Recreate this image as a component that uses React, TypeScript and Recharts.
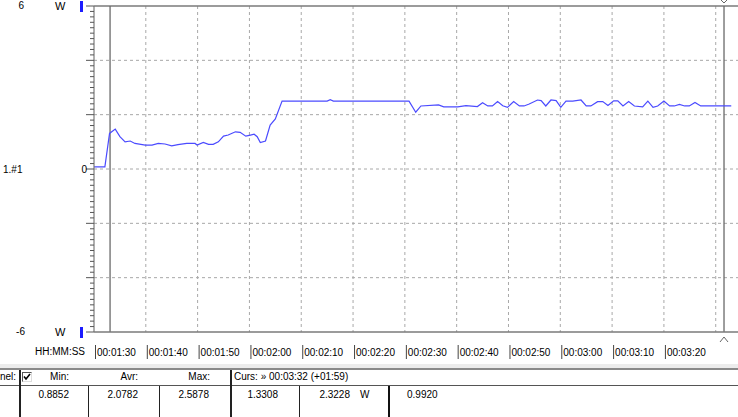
import { LineChart, Line, XAxis, YAxis, CartesianGrid, ReferenceLine } from 'recharts'

// samples: seconds since 00:00:00, power in W
const sampleSec = [
  90.0, 92.1, 93.0, 94.1, 95.0, 96.0, 97.0, 97.9, 99.9, 101.2, 102.4, 103.7, 105.0, 106.2, 107.9, 109.5,
  109.9, 111.1, 112.1, 113.0, 114.0, 115.0, 115.9, 117.3, 118.2, 119.3, 120.2, 120.9, 121.5, 122.1, 123.1,
  124.0, 125.0, 126.3, 135.0, 135.6, 136.2, 150.8, 152.1, 153.1, 156.5, 157.5, 160.2, 161.8, 164.0, 165.0,
  166.0, 166.9, 167.9, 168.9, 169.8, 171.0, 172.1, 173.0, 174.0, 175.6, 176.3, 177.2, 178.2, 179.2, 180.1,
  181.1, 182.4, 184.0, 185.0, 185.9, 187.2, 188.2, 189.2, 190.3, 191.1, 192.1, 193.2, 194.3, 195.9, 196.9,
  197.9, 198.8, 200.0, 201.1, 202.0, 203.0, 204.0, 204.9, 206.0, 207.1, 213.0,
]
const powerW = [
  0.08, 0.08, 1.31, 1.47, 1.19, 1.0, 1.03, 0.94, 0.88, 0.88, 0.94, 0.92, 0.85, 0.9, 0.94, 0.94,
  0.88, 0.98, 0.91, 0.91, 1.0, 1.21, 1.25, 1.37, 1.35, 1.21, 1.25, 1.28, 1.19, 0.97, 1.03,
  1.62, 1.84, 2.5, 2.5, 2.55, 2.5, 2.5, 2.09, 2.32, 2.36, 2.29, 2.29, 2.33, 2.3, 2.44,
  2.32, 2.32, 2.48, 2.33, 2.27, 2.48, 2.32, 2.32, 2.39, 2.54, 2.52, 2.32, 2.54, 2.52, 2.27,
  2.5, 2.5, 2.54, 2.32, 2.32, 2.48, 2.48, 2.34, 2.51, 2.51, 2.32, 2.48, 2.32, 2.29, 2.5,
  2.27, 2.32, 2.5, 2.32, 2.32, 2.38, 2.32, 2.32, 2.45, 2.32, 2.32,
]

const timeTicks = [90, 100, 110, 120, 130, 140, 150, 160, 170, 180, 190, 200, 210]
const lastLabelSec = 200
const gridY = [-4, -2, 0, 2, 4]
const minorY = Array.from({ length: 61 }, (_, i) => Math.round((i * 0.2 - 6) * 10) / 10)
const cursorSec = [93.1, 211.6]

const statHeaders = ['Min:', 'Avr:', 'Max:']
const statValues = ['0.8852', '2.0782', '2.5878']
const cursorHeader = 'Curs: \u00bb 00:03:32 (+01:59)'
const cursorValues = ['1.3308', '2.3228', '0.9920']

const data = sampleSec.map((t, i) => ({ t, w: powerW[i] }))

const FONT = '"Liberation Sans", Arial, sans-serif'
const pad = (n: number) => String(n).padStart(2, '0')
const fmtTime = (s: number) => `00:${pad(Math.floor(s / 60))}:${pad(s % 60)}`

function TimeTick({ x, y, payload }: any) {
  if (payload.value > lastLabelSec) return <g />
  return (
    <g>
      <line x1={x + 1.5} x2={x + 1.5} y1={y + 13} y2={y + 27} stroke="#444" />
      <text x={x + 3} y={y + 24} fontSize={10} fontFamily={FONT} fill="#000">
        {fmtTime(payload.value)}
      </text>
    </g>
  )
}

function PowerTick({ x, y, payload }: any) {
  const v = payload.value
  const major = Math.round(v * 10) % 20 === 0
  return (
    <g>
      <line x1={x - (major ? 8 : 4)} x2={x} y1={y} y2={y} stroke="#555" />
      {v === 0 && (
        <text x={x - 7} y={y} dy="0.35em" textAnchor="end" fontSize={10} fontFamily={FONT} fill="#000">
          0
        </text>
      )}
    </g>
  )
}

function CursorMarks({ viewBox }: any) {
  if (!viewBox) return null
  const { x, y, height } = viewBox
  const b = y + height
  return (
    <g stroke="#666" fill="none">
      <polyline points={`${x - 4},${b + 10} ${x},${b + 5} ${x + 4},${b + 10}`} />
      <polyline points={`${x - 3},${y - 6} ${x},${y - 3} ${x + 3},${y - 6}`} />
    </g>
  )
}

function Txt({ left, right, top, children, size = 10 }: any) {
  const style: any = { position: 'absolute', top, lineHeight: '12px', fontSize: size, whiteSpace: 'nowrap' }
  if (left !== undefined) style.left = left
  if (right !== undefined) style.right = 738 - right
  return <div style={style}>{children}</div>
}

const vline = (x: number, top: number, w = 1, color = '#222') => (
  <div key={`v${x}-${top}`} style={{ position: 'absolute', left: x, top, width: w, bottom: 0, background: color }} />
)

export default function App() {
  return (
    <div
      style={{
        position: 'absolute', left: 0, top: 0, width: 738, height: 417, overflow: 'hidden',
        background: '#fff', fontFamily: FONT, color: '#000',
      }}
    >
      <LineChart width={738} height={417} data={data} margin={{ top: 6, right: 0, left: 0, bottom: 55 }}>
        <CartesianGrid
          stroke="#a8a8a8"
          strokeDasharray="3 3"
          horizontalValues={gridY}
          verticalValues={timeTicks.slice(1)}
        />
        <XAxis
          dataKey="t"
          type="number"
          domain={[90, 214.3]}
          allowDataOverflow
          ticks={timeTicks}
          interval={0}
          height={30}
          tickSize={0}
          tickMargin={0}
          tickLine={false}
          axisLine={{ stroke: '#7a7a7a', strokeWidth: 1.5 }}
          tick={<TimeTick />}
        />
        <YAxis
          type="number"
          domain={[-6, 6]}
          ticks={minorY}
          interval={0}
          width={94}
          tickSize={0}
          tickMargin={0}
          tickLine={false}
          axisLine={{ stroke: '#7a7a7a', strokeWidth: 1.2 }}
          tick={<PowerTick />}
        />
        <ReferenceLine y={6} stroke="#7a7a7a" strokeWidth={1.5} />
        <ReferenceLine x={cursorSec[0]} stroke="#6a6a6a" strokeWidth={1.3} />
        <ReferenceLine
          x={cursorSec[1]}
          stroke="#6a6a6a"
          strokeWidth={1.3}
          label={(p: any) => <CursorMarks viewBox={p.viewBox} />}
        />
        <Line
          type="linear"
          dataKey="w"
          stroke="#4b4bff"
          strokeWidth={1.2}
          dot={false}
          isAnimationActive={false}
        />
      </LineChart>

      {/* left axis captions */}
      <Txt right={24} top={0}>6</Txt>
      <Txt right={25} top={326}>-6</Txt>
      <Txt left={55} top={0} size={11}>W</Txt>
      <Txt left={55} top={326} size={11}>W</Txt>
      <Txt left={3} top={164}>1.#1</Txt>
      <div style={{ position: 'absolute', left: 80, top: 1, width: 3, height: 11, background: '#1c1cff' }} />
      <div style={{ position: 'absolute', left: 80, top: 327, width: 3, height: 11, background: '#1c1cff' }} />
      <Txt left={35} top={346}>HH:MM:SS</Txt>

      {/* stats table */}
      <div style={{ position: 'absolute', left: 0, top: 364, width: 738, height: 4, background: '#ececec' }} />
      <div style={{ position: 'absolute', left: 0, top: 368, width: 738, height: 2, background: '#8a8a8a' }} />
      <div style={{ position: 'absolute', left: 0, top: 385, width: 738, height: 1, background: '#555' }} />
      {vline(19, 370, 2)}
      {vline(230, 370, 1.5)}
      {vline(88, 386)}
      {vline(159, 386)}
      {vline(299, 386)}
      {vline(388, 386, 2, '#111')}

      <Txt right={16} top={371}>nel:</Txt>
      <div
        style={{
          position: 'absolute', left: 22, top: 372, width: 8, height: 8, background: '#fff',
          borderTop: '1px solid #555', borderLeft: '1px solid #555', borderRight: '1px solid #ddd',
          borderBottom: '1px solid #ddd',
        }}
      >
        <svg width={8} height={8} style={{ position: 'absolute', left: 0, top: 0 }}>
          <polyline points="1,3.5 3,6 7,1" stroke="#000" strokeWidth={1.6} fill="none" />
        </svg>
      </div>
      <Txt right={69} top={371}>{statHeaders[0]}</Txt>
      <Txt right={138} top={371}>{statHeaders[1]}</Txt>
      <Txt right={210} top={371}>{statHeaders[2]}</Txt>
      <Txt left={234} top={371}>{cursorHeader}</Txt>

      <Txt right={69} top={389}>{statValues[0]}</Txt>
      <Txt right={138} top={389}>{statValues[1]}</Txt>
      <Txt right={209} top={389}>{statValues[2]}</Txt>
      <Txt right={278} top={389}>{cursorValues[0]}</Txt>
      <Txt right={350} top={389}>{cursorValues[1]}</Txt>
      <Txt left={360} top={389}>W</Txt>
      <Txt left={407} top={389}>{cursorValues[2]}</Txt>
    </div>
  )
}
